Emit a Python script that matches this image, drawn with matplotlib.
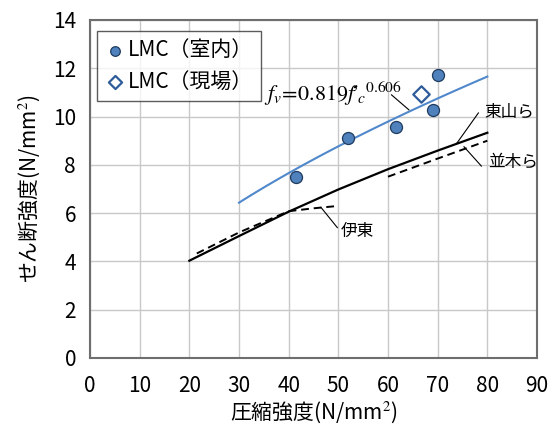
import numpy as np
import matplotlib
matplotlib.use("Agg")
import matplotlib.pyplot as plt

plt.rcParams['font.family'] = ['Noto Sans CJK JP', 'DejaVu Sans']
plt.rcParams['mathtext.fontset'] = 'stix'

# LMC test results (compressive strength, shear strength)
lab_fc = [41.4, 52.0, 61.6, 69.1, 70.1]
lab_fv = [7.5, 9.13, 9.58, 10.27, 11.71]
site_fc = [66.7]
site_fv = [10.92]

# Regression fv = a * fc^b
coef_a = 0.819
coef_b = 0.606
fit_range = (30, 80)

# Existing proposals
higashiyama_fc = [20, 30, 40, 50, 60, 70, 80]
higashiyama_fv = [4.03, 5.05, 6.06, 6.98, 7.82, 8.59, 9.33]
namiki_fc = [60, 70, 80]
namiki_fv = [7.51, 8.26, 9.0]
ito_fc = [21.5, 30, 40, 45, 50]
ito_fv = [4.33, 5.2, 6.08, 6.2, 6.3]

xticks = list(range(0, 91, 10))
yticks = list(range(0, 15, 2))

fig = plt.figure(figsize=(5.53, 4.32), dpi=100)
ax = fig.add_axes([90/553, 1-358/432, (537-90)/553, (358-20)/432])

ax.set_xlim(0, 90)
ax.set_ylim(0, 14)
ax.set_xticks(xticks)
ax.set_yticks(yticks)
ax.grid(True, color='#c8c8c8', linewidth=1.0)
ax.set_axisbelow(True)
ax.tick_params(length=0, labelsize=15)
ax.tick_params(axis='x', pad=12)
ax.tick_params(axis='y', pad=10)
for s in ax.spines.values():
    s.set_color('#6e6e6e')
    s.set_linewidth(1.5)

fc_fit = np.linspace(fit_range[0], fit_range[1], 100)
ax.plot(fc_fit, coef_a * fc_fit ** coef_b, color='#5088cc', lw=1.5, zorder=3)

ax.plot(higashiyama_fc, higashiyama_fv, color='black', lw=1.6, zorder=3)
ax.plot(namiki_fc, namiki_fv, color='black', lw=1.4, ls=(0, (4, 2.5)), zorder=3)
ax.plot(ito_fc, ito_fv, color='black', lw=1.4, ls=(0, (4, 2.5)), zorder=3)

ax.scatter(lab_fc, lab_fv, s=75, marker='o', facecolor='#4f81bd',
           edgecolor='#1f3b5e', linewidth=0.9, zorder=5, label='LMC（室内）')
ax.scatter(site_fc, site_fv, s=70, marker='D', facecolor='white',
           edgecolor='#2e5c9a', linewidth=1.6, zorder=5, label='LMC（現場）')

leg = ax.legend(loc='upper left', bbox_to_anchor=(0.015, 0.968), fontsize=15,
                frameon=True, fancybox=False, edgecolor='#333333',
                handletextpad=0.1, borderpad=0.4, labelspacing=0.45,
                handlelength=1.0, borderaxespad=0, markerscale=0.8)
leg.get_frame().set_linewidth(1.0)

# Formula label and leader
ax.text(35.0, 10.95, r"$f_v\!=\!0.819f\!’_{\!c}{}^{0.606}$", fontsize=16,
        ha='left', va='center', zorder=6)
ax.plot([60.7, 64.2], [10.9, 10.28], color='black', lw=0.8, zorder=4)

# Curve labels with leaders
ax.text(79.4, 10.2, '東山ら', fontsize=12, ha='left', va='center')
ax.plot([73.8, 78.2], [8.88, 10.15], color='black', lw=0.8)
ax.text(80.2, 8.1, '並木ら', fontsize=12, ha='left', va='center')
ax.plot([75.3, 78.8], [8.75, 7.95], color='black', lw=0.8)
ax.text(50.5, 5.25, '伊東', fontsize=12, ha='left', va='center')
ax.plot([46.5, 49.8], [6.24, 5.4], color='black', lw=0.8)

ax.set_xlabel('圧縮強度(N/mm$^2$)', fontsize=15, labelpad=2)
ax.set_ylabel('せん断強度(N/mm$^2$)', fontsize=15, labelpad=8)

fig.savefig('out.png', dpi=100)
